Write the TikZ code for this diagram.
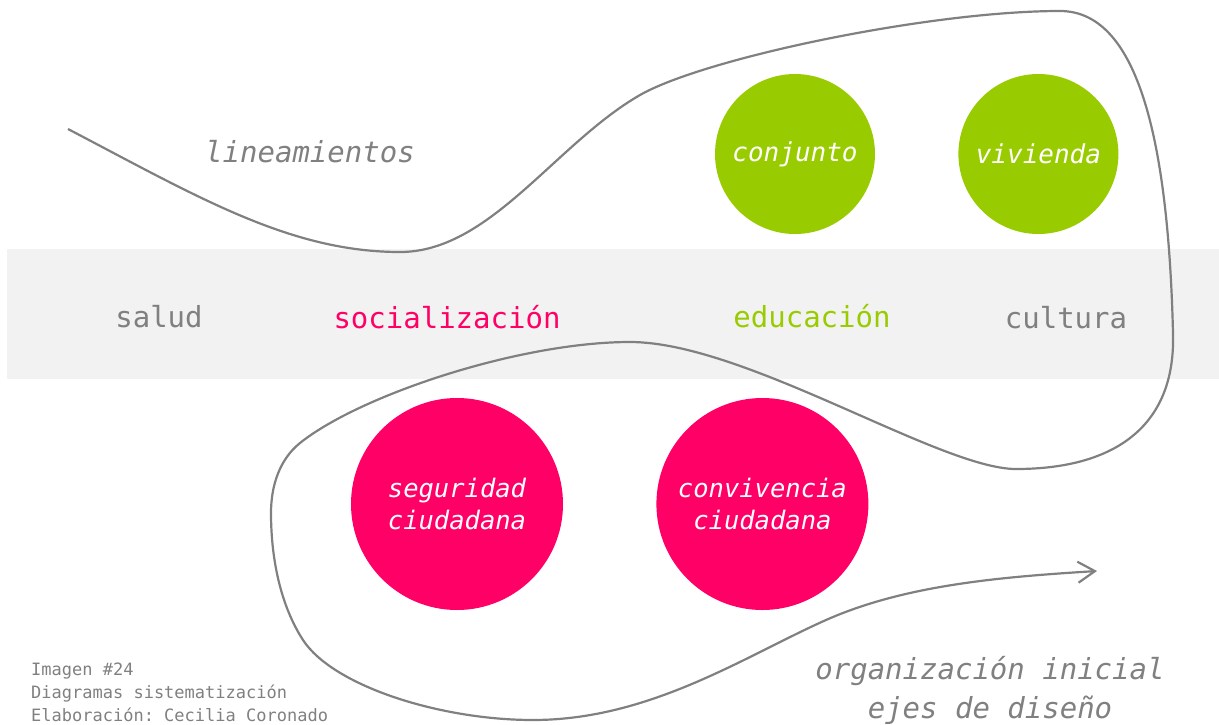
\documentclass[tikz,border=0pt]{standalone}
\usepackage{fontspec}
\setmonofont{DejaVu Sans Mono}
\usetikzlibrary{positioning,arrows.meta}
\definecolor{cGreen}{RGB}{153,204,0}
\definecolor{cPink}{RGB}{255,0,102}
\definecolor{cGray}{RGB}{128,128,128}
\definecolor{cBand}{RGB}{242,242,242}
\tikzset{
  ball/.style={
    circle, inner sep=0pt, align=center, text=white,
    font=\ttfamily\itshape\fontsize{26}{32}\selectfont,
  },
  ballG/.style={ball, fill=cGreen, minimum size=160pt},
  ballP/.style={ball, fill=cPink, minimum size=212pt,
    font=\ttfamily\itshape\fontsize{25.5}{32}\selectfont},
  eje/.style={font=\ttfamily\fontsize{29}{34}\selectfont, inner sep=0pt, anchor=base},
  lab/.style={font=\ttfamily\itshape\fontsize{29}{39}\selectfont, text=cGray,
    align=center, inner sep=0pt},
  foot/.style={font=\ttfamily\fontsize{17}{23}\selectfont, text=cGray,
    align=left, inner sep=0pt},
  arr/.style={-{Straight Barb[length=17pt,width=21pt]}, line width=2.2pt, draw=cGray},
}

\begin{document}
\begin{tikzpicture}[x=1pt, y=-1pt]
\useasboundingbox (0,0) rectangle (1219,724);

% ===== gray band with the four axes =====
\fill[cBand] (7,249) rectangle (1219,379);

\node[eje, text=cGray]  (salud)   at (159,327)  {salud};
\node[eje, text=cPink]  (social)  at (447,328)  {socialización};
\node[eje, text=cGreen] (educa)   at (812,327)  {educación};
\node[eje, text=cGray]  (cultura) at (1066,328) {cultura};

% ===== circles =====
\node[ballG] (conjunto) at (795,154) {conjunto};
\node[ballG, right=83pt of conjunto] (vivienda) {vivienda};

\node[ballP] (seguridad) at (457,504) {seguridad\\ ciudadana};
\node[ballP, right=93pt of seguridad] (convive) {convivencia\\ ciudadana};

% ===== the line that runs round everything =====
\coordinate (inicio) at (68,129);
\coordinate (valle)  at (400,252);
\coordinate (cima)   at (1060,11);
\coordinate (borde)  at (1173,333);
\coordinate (lobulo) at (630,342);
\coordinate (fondo)  at (533,720);
\coordinate (fin)    at (1097,571);

\draw[arr] (inicio) .. controls (198,197) and (290,252) .. (valle)
  .. controls (490,252) and (555,144) .. (640,95)
  .. controls (705,58) and (930,11) .. (cima)
  .. controls (1135,11) and (1168,130) .. (borde)
  .. controls (1176,430) and (1110,469) .. (1016,469)
  .. controls (940,469) and (745,342) .. (lobulo)
  .. controls (520,342) and (360,395) .. (300,443)
  .. controls (280,459) and (271,485) .. (271,513)
  .. controls (271,560) and (281,606) .. (303,640)
  .. controls (333,686) and (440,720) .. (fondo)
  .. controls (650,720) and (745,656) .. (826,620)
  .. controls (905,585) and (1000,577) .. (fin);

% ===== labels =====
\node[lab, anchor=base] (lineam) at (310,162) {lineamientos};
\node[lab] (organiza) at (990,690) {organización inicial\\ ejes de diseño};

\node[foot, anchor=north west] (creditos) at (31,663)
  {Imagen \#24\\ Diagramas sistematización\\ Elaboración: Cecilia Coronado};

\end{tikzpicture}
\end{document}
